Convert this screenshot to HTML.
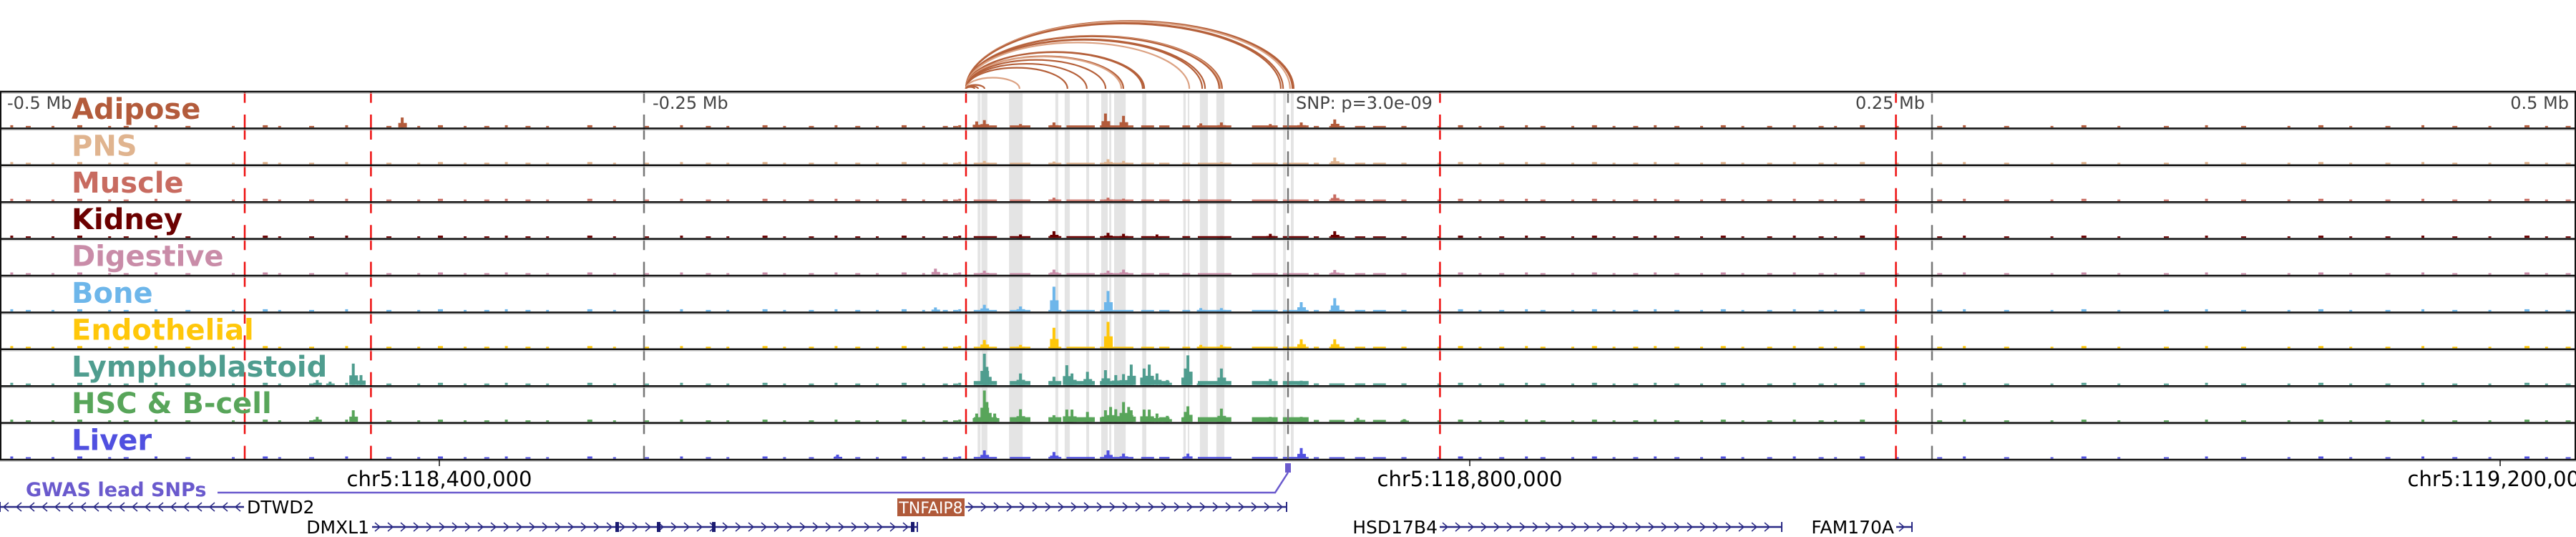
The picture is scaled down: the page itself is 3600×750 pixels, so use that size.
<!DOCTYPE html>
<html><head><meta charset="utf-8">
<style>
html,body{margin:0;padding:0;background:#fff;}
svg{display:block;font-family:"DejaVu Sans","Liberation Sans",sans-serif;}
</style></head>
<body>
<svg id="chart" width="3600" height="750" viewBox="0 0 3600 750" xmlns="http://www.w3.org/2000/svg">
<g id="arcs"></g>
<g id="bands"></g>
<g id="tracks"></g>
<g id="vlines"></g>
<g id="frame"></g>
<g id="labels"></g>
<g id="bottom"></g>
</svg>
<script>
// ---------- data ----------
const trackNames = ["Adipose","PNS","Muscle","Kidney","Digestive","Bone","Endothelial","Lymphoblastoid","HSC & B-cell","Liver"];
const trackColors = ["#b35b3b","#e0b48f","#c86b60","#6b0000","#c98ca8","#6db6ea","#ffc70a","#4f9d8f","#58a55a","#5050e0"];
const peaksAdipose = [[-344,0.3],[-121,0.18],[-118,0.22],[-104,0.1],[-91,0.15],[-71,0.42],[-64,0.35],[-34,0.12],[-26,0.15],[-7,0.1],[5,0.15],[18,0.24]];
const peaksPNS = [[-118,0.1],[-91,0.08],[-70,0.15],[-64,0.1],[-26,0.07],[18,0.2]];
const peaksMuscle = [[-91,0.1],[-70,0.1],[-64,0.07],[18,0.2]];
const peaksKidney = [[-104,0.1],[-91,0.2],[-70,0.15],[-64,0.12],[-51,0.1],[-26,0.05],[-7,0.12],[18,0.2]];
const peaksDigestive = [[-137,0.18],[-118,0.12],[-91,0.15],[-70,0.12],[-64,0.15],[18,0.14]];
const peaksBone = [[-137,0.12],[-118,0.2],[-104,0.15],[-91,0.75],[-70,0.62],[-34,0.1],[-26,0.1],[5,0.28],[18,0.4]];
const peaksEndothelial = [[-118,0.25],[-104,0.1],[-91,0.62],[-70,0.8],[-34,0.1],[-26,0.1],[5,0.27],[18,0.27]];
const peaksLympho = [[-377,0.15],[-372,0.1],[-363,0.65],[-360,0.3],[-118,0.95],[-117,0.55],[-104,0.35],[-91,0.25],[-86,0.6],[-84,0.35],[-78,0.4],[-71,0.45],[-67,0.3],[-64,0.33],[-61,0.62],[-56,0.5],[-54,0.62],[-51,0.35],[-47,0.15],[-40,0.5],[-39,0.9],[-34,0.1],[-26,0.5],[-7,0.18],[5,0.13]];
const peaksHSC = [[-377,0.15],[-363,0.35],[-121,0.25],[-118,0.95],[-117,0.6],[-114,0.25],[-104,0.38],[-91,0.2],[-86,0.37],[-84,0.37],[-78,0.3],[-71,0.35],[-69,0.45],[-67,0.38],[-64,0.6],[-62,0.45],[-61,0.35],[-56,0.37],[-54,0.37],[-51,0.25],[-47,0.18],[-40,0.3],[-39,0.47],[-26,0.4],[-7,0.15],[5,0.15],[27,0.12],[45,0.08]];
const peaksLiver = [[-175,0.12],[-118,0.25],[-91,0.2],[-70,0.25],[-64,0.15],[-39,0.15],[5,0.32]];
const trackPeaks = [peaksAdipose,peaksPNS,peaksMuscle,peaksKidney,peaksDigestive,peaksBone,peaksEndothelial,peaksLympho,peaksHSC,peaksLiver];
const plateauLevel = [0.06,0.03,0.04,0.05,0.04,0.04,0.03,0.12,0.14,0.05];
const plateauSpans = [[-122,-113],[-108,-100],[-93,-88],[-86,-75],[-73,-60],[-57,-52],[-50,-46],[-41,-38],[-35,-22],[-14,-4],[-2,8],[10,12],[16,22],[26,30],[33,38],[44,46]];
const bgBins = [-496,-490,-480,-470,-458,-452,-440,-428,-410,-398,-392,-380,-366,-350,-338,-330,-320,-312,-304,-296,-288,-272,-262,-250,-236,-226,-218,-204,-196,-186,-176,-168,-160,-150,-142,-134,-128,-130,
 58,66,74,82,92,98,110,118,126,134,142,150,160,168,176,186,196,206,212,222,236,252,262,278,296,308,322,340,356,370,388,400,412,426,440,452,466,480,488,496];
const bands = [[-120.5,-119.4],[-119,-116.7],[-108.3,-103],[-90.3,-89.2],[-86.7,-84.7],[-78.3,-77.2],[-72.5,-70],[-69.4,-68.6],[-67.5,-63],[-56.6,-55],[-40.6,-39.7],[-38.9,-38.3],[-34.2,-31.1],[-27.8,-24.7],[-5.6,-4.7],[-1.9,-0.8],[1.1,2.2]];
const arcStart = -125;
const arcEnds = [2.2,1.7,0.8,-1.9,-2.8,-25.6,-26.1,-26.7,-32.2,-33.3,-38.3,-55.8,-56.4,-63.9,-64.7,-70.8,-78.1,-85.6,-104.2,-117.8,-120.3,-121.7];
const redLines = [-405,-356,-125,59,236];
const grayLines = [-250,0,250];

// ---------- scales ----------
const NS="http://www.w3.org/2000/svg";
const X = kb => 1800 + kb*3.6;
const TOP=128, TH=51.4, NT=10;
const rowTop = i => TOP + i*TH;
const MAXH = 46;
function el(tag, attrs, parent){const e=document.createElementNS(NS,tag);for(const k in attrs)e.setAttribute(k,attrs[k]);parent.appendChild(e);return e;}
const gArcs=document.getElementById('arcs'),gBands=document.getElementById('bands'),gTracks=document.getElementById('tracks'),
gV=document.getElementById('vlines'),gFrame=document.getElementById('frame'),gLab=document.getElementById('labels'),gBot=document.getElementById('bottom');

arcEnds.forEach((e,i)=>{
  const x1=X(arcStart), x2=X(e), span=x2-x1, rx=span/2, ry=span*0.207, y0=124;
  const p=el('path',{d:`M${x1} ${y0} A${rx} ${ry} 0 0 1 ${x2} ${y0}`,fill:'none',stroke:(i%4===2)?'#dca283':'#b5603a','stroke-width':2.2},gArcs);
  
  
});

bands.forEach(b=>{
  const r=el('rect',{x:X(b[0]),y:TOP,width:X(b[1])-X(b[0]),height:TH*NT,fill:'#e4e4e4'},gBands);
  
  
});

for(let i=0;i<NT;i++){
  const base=rowTop(i)+TH-1.5, c=trackColors[i];
  const g=el('g',{},gTracks);
  
  
  bgBins.forEach((kb,j)=>{
    const h=2+((j%3)===0?1:0);
    el('rect',{x:X(kb),y:base-h,width:(j%2?7:4),height:h,fill:c},g);
  });
  plateauSpans.forEach(s=>{
    const lvl=plateauLevel[i]*(s[0]>0?0.4:1);
    const h=Math.max(2,lvl*MAXH);
    el('rect',{x:X(s[0]),y:base-h,width:X(s[1])-X(s[0]),height:h,fill:c},g);
  });
  trackPeaks[i].forEach(p=>{
    const h=p[1]*MAXH, cx=X(p[0]);
    el('rect',{x:cx-5,y:base-h*0.45,width:12,height:h*0.45,fill:c},g);
    const b=el('rect',{x:cx-1.5,y:base-h,width:4,height:h,fill:c},g);
    
    
  });
}

redLines.forEach(kb=>{
  const l=el('line',{x1:X(kb),x2:X(kb),y1:TOP,y2:TOP+TH*NT,stroke:'#ee1111','stroke-width':2.5,'stroke-dasharray':'35 16.4','stroke-dashoffset':19.4},gV);
  
  
});
grayLines.forEach(kb=>{
  const l=el('line',{x1:X(kb),x2:X(kb),y1:TOP,y2:TOP+TH*NT,stroke:'#777','stroke-width':2.5,'stroke-dasharray':'35 16.4','stroke-dashoffset':19.4},gV);
  
  
});

for(let i=0;i<=NT;i++){
  el('line',{x1:0,x2:3600,y1:rowTop(i),y2:rowTop(i),stroke:'#111','stroke-width':2.5},gFrame);
  el('line',{x1:0,x2:3600,y1:rowTop(i)+2.2,y2:rowTop(i)+2.2,stroke:'#bbb','stroke-width':1},gFrame);
}
el('line',{x1:1,x2:1,y1:TOP,y2:TOP+TH*NT,stroke:'#111','stroke-width':2},gFrame);
el('line',{x1:3599,x2:3599,y1:TOP,y2:TOP+TH*NT,stroke:'#111','stroke-width':2},gFrame);

trackNames.forEach((n,i)=>{
  const t=el('text',{x:100,y:rowTop(i)+38,fill:trackColors[i],'font-size':40,'font-weight':'bold'},gLab);
  t.textContent=n;
  
  
});
const distLabels=[["-0.5 Mb",10,'start'],["-0.25 Mb",X(-250)+12,'start'],["SNP: p=3.0e-09",X(0)+11,'start'],["0.25 Mb",X(250)-10,'end'],["0.5 Mb",3590,'end']];
distLabels.forEach(d=>{
  const t=el('text',{x:d[1],y:152,fill:'#444','font-size':24,'text-anchor':d[2]},gLab);
  t.textContent=d[0];
  
  
});

const genomicTicks=[118400000,118800000,119200000];
const SNPpos=118729444;
genomicTicks.forEach(p=>{
  const x=X((p-SNPpos)/1000);
  el('line',{x1:x,x2:x,y1:643,y2:651,stroke:'#111','stroke-width':1.5},gBot);
  const t=el('text',{x:x,y:679,'font-size':29,'text-anchor':'middle',fill:'#000'},gBot);
  t.textContent='chr5:'+p.toLocaleString('en-US');
  
  
});

const gw=el('text',{x:36,y:693,'font-size':27,'font-weight':'bold',fill:'#6a5acd'},gBot);
gw.textContent='GWAS lead SNPs';


el('polyline',{points:'304,688 1782,688 1800,660',fill:'none',stroke:'#6a5acd','stroke-width':2.5},gBot);
const snp=el('rect',{x:1796,y:647,width:8,height:13,fill:'#6a5acd'},gBot);



function gene(name,x1,x2,y,dir,labelX,anchor,labelFill,box,fs){
  const g=el('g',{},gBot);
  
  
  el('line',{x1:x1,x2:x2,y1:y,y2:y,stroke:'#2a2a85','stroke-width':2.5},g);
  for(let x=x1+8;x<x2-4;x+=18){
    const d=dir>0?`M${x-4} ${y-6} L${x+3} ${y} L${x-4} ${y+6}`:`M${x+4} ${y-6} L${x-3} ${y} L${x+4} ${y+6}`;
    el('path',{d:d,fill:'none',stroke:'#2a2a85','stroke-width':1.5},g);
  }
  el('line',{x1:dir>0?x2:x1,x2:dir>0?x2:x1,y1:y-7,y2:y+7,stroke:'#2a2a85','stroke-width':2},g);
  if(box){el('rect',{x:box[0],y:y-12,width:box[1]-box[0],height:25,fill:'#b05a3a'},g);}
  const t=el('text',{x:labelX,y:y+9,'font-size':fs||25,'text-anchor':anchor,fill:labelFill},g);
  t.textContent=name;
  return g;
}
gene('DTWD2',0,341,708,-1,345,'start','#000');
gene('TNFAIP8',1349,1798,708,1,1301,'middle','#fff',[1254,1348],22);
const dm=gene('DMXL1',520,1282,736,1,516,'end','#000');
[862,920,997,1275].forEach(x=>el('rect',{x:x-2,y:729,width:5,height:14,fill:'#1a1a70'},dm));
gene('HSD17B4',2012,2490,736,1,2009,'end','#000');
gene('FAM170A',2650,2672,736,1,2647,'end','#000');
</script>
</body></html>
